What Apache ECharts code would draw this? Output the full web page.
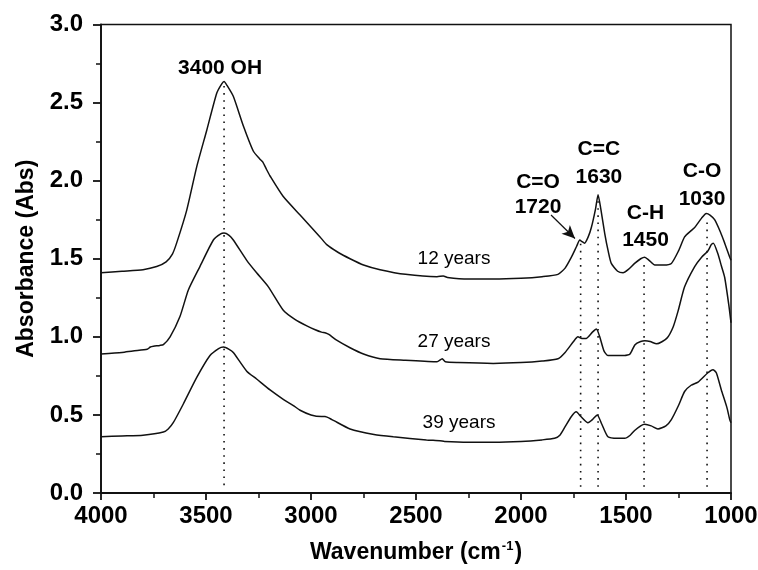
<!DOCTYPE html>
<html>
<head>
<meta charset="utf-8">
<script src="https://cdn.jsdelivr.net/npm/echarts@6/dist/echarts.min.js"></script>
<style>
html,body{margin:0;padding:0;background:#fff;}
#chart{width:758px;height:570px;}
</style>
</head>
<body>
<div id="chart"></div>
<script>
// ---- Data ----
const wavenumber12 = [4000,3900,3800,3735,3690,3660,3640,3592,3544,3497,3449,3425,3414,3400,3370,3322,3275,3245,3230,3211,3195,3133,3052,2957,2925,2870,2814,2750,2671,2550,2400,2370,2350,2250,2132,2000,1900,1824,1790,1760,1735,1720,1710,1697,1680,1665,1645,1633,1620,1601,1585,1570,1540,1514,1490,1459,1430,1411,1390,1363,1320,1284,1250,1221,1190,1173,1140,1118,1100,1078,1050,1030,1006,1000];
const absorbance12 = [1.41,1.42,1.43,1.45,1.48,1.53,1.60,1.81,2.09,2.32,2.56,2.62,2.635,2.61,2.54,2.35,2.19,2.14,2.12,2.07,2.03,1.90,1.78,1.64,1.59,1.54,1.50,1.46,1.43,1.40,1.385,1.39,1.38,1.37,1.37,1.375,1.385,1.40,1.44,1.51,1.58,1.62,1.61,1.60,1.64,1.70,1.82,1.91,1.82,1.66,1.55,1.47,1.42,1.41,1.43,1.47,1.50,1.51,1.49,1.46,1.46,1.47,1.55,1.64,1.68,1.70,1.76,1.79,1.78,1.75,1.67,1.60,1.51,1.49];

const wavenumber27 = [4000,3900,3848,3780,3765,3750,3720,3703,3671,3624,3584,3529,3465,3430,3414,3390,3370,3306,3259,3203,3132,3075,3020,2980,2950,2930,2915,2880,2814,2750,2671,2550,2400,2375,2360,2300,2132,2000,1900,1824,1790,1750,1729,1710,1690,1660,1641,1625,1605,1586,1540,1506,1481,1457,1430,1410,1385,1354,1306,1275,1251,1221,1173,1140,1110,1094,1084,1062,1045,1030,1010,1000];
const absorbance27 = [0.89,0.90,0.91,0.92,0.935,0.94,0.945,0.95,1.00,1.13,1.30,1.45,1.62,1.66,1.665,1.65,1.62,1.49,1.41,1.32,1.17,1.11,1.07,1.045,1.03,1.025,1.015,0.98,0.93,0.89,0.86,0.85,0.84,0.86,0.84,0.835,0.83,0.835,0.845,0.86,0.90,0.97,1.00,0.99,0.99,1.03,1.05,1.00,0.91,0.88,0.88,0.88,0.89,0.95,0.97,0.975,0.97,0.955,0.99,1.065,1.17,1.32,1.45,1.51,1.55,1.59,1.60,1.53,1.45,1.38,1.20,1.09];

const wavenumber39 = [4000,3900,3800,3703,3680,3656,3608,3544,3481,3440,3417,3390,3370,3306,3259,3195,3132,3084,3052,3000,2950,2933,2900,2814,2700,2608,2450,2386,2364,2250,2132,2000,1900,1840,1815,1792,1760,1737,1715,1681,1660,1637,1615,1586,1540,1506,1480,1459,1430,1411,1380,1348,1310,1284,1250,1221,1190,1157,1110,1086,1070,1046,1020,1006,1000];
const absorbance39 = [0.36,0.365,0.37,0.39,0.41,0.45,0.57,0.74,0.88,0.925,0.935,0.92,0.90,0.78,0.73,0.66,0.60,0.56,0.53,0.50,0.49,0.49,0.47,0.41,0.375,0.36,0.34,0.335,0.33,0.325,0.325,0.33,0.34,0.35,0.37,0.42,0.49,0.52,0.49,0.45,0.47,0.50,0.44,0.36,0.35,0.35,0.37,0.40,0.43,0.44,0.43,0.41,0.43,0.47,0.56,0.65,0.69,0.71,0.77,0.79,0.77,0.66,0.55,0.47,0.45];

const peakWavenumbers = [3414, 1716, 1633, 1414, 1114];
const peakTops = [2.62, 1.61, 1.90, 1.49, 1.76];
const peakBottoms = [0.05, 0.04, 0.04, 0.04, 0.04];

const annotationTexts = ['3400 OH', 'C=O', '1720', 'C=C', '1630', 'C-H', '1450', 'C-O', '1030'];
const annotationWn = [3433, 1919, 1919, 1629, 1629, 1407, 1407, 1138, 1138];
const annotationAbs = [2.72, 1.99, 1.83, 2.20, 2.02, 1.79, 1.62, 2.06, 1.88];

const sampleLabels = ['12 years', '27 years', '39 years'];
const sampleLabelWn = [2319, 2319, 2295];
const sampleLabelAbs = [1.50, 0.97, 0.45];

const arrowFrom = [1857, 1.78];
const arrowTo = [1743, 1.63];

const xTicks = {min: 1000, max: 4000, interval: 500};
const yTicks = {min: 0, max: 3, interval: 0.5};

// ---- Build chart ----
const zip = (a, b) => a.map((v, i) => [v, b[i]]);
const FONT = '"Liberation Sans", Arial, sans-serif';
const lineColor = '#111';

const series = [];
[[wavenumber12, absorbance12], [wavenumber27, absorbance27], [wavenumber39, absorbance39]].forEach(([w, a]) => {
  series.push({
    type: 'line', data: zip(w, a), showSymbol: false, symbol: 'none', smooth: 0.2,
    lineStyle: {color: lineColor, width: 1.5}, z: 3
  });
});
peakWavenumbers.forEach((w, i) => {
  series.push({
    type: 'line', data: [[w, peakBottoms[i]], [w, peakTops[i]]], symbol: 'none',
    lineStyle: {color: '#111', width: 1.6, type: [1.6, 5.5]}, z: 2
  });
});
series.push({
  type: 'scatter', symbolSize: 1, itemStyle: {color: 'rgba(0,0,0,0)', opacity: 1},
  data: annotationTexts.map((t, i) => ({name: t, value: [annotationWn[i], annotationAbs[i]]})),
  label: {show: true, position: 'inside', formatter: '{b}', color: '#000', fontFamily: FONT, fontWeight: 'bold', fontSize: 21},
  z: 5
});
series.push({
  type: 'scatter', symbolSize: 1, itemStyle: {color: 'rgba(0,0,0,0)', opacity: 1},
  data: sampleLabels.map((t, i) => ({name: t, value: [sampleLabelWn[i], sampleLabelAbs[i]]})),
  label: {show: true, position: 'inside', formatter: '{b}', color: '#000', fontFamily: FONT, fontWeight: 'normal', fontSize: 19},
  z: 5,
  markLine: {
    silent: true, symbol: ['none', 'arrow'], symbolSize: [9, 13],
    lineStyle: {color: '#111', width: 1.2, type: 'solid', opacity: 1}, label: {show: false},
    data: [[{coord: arrowFrom}, {coord: arrowTo}]]
  }
});

const chart = echarts.init(document.getElementById('chart'));
chart.setOption({
  animation: false,
  backgroundColor: '#fff',
  grid: {left: 101, right: 27, top: 24.5, bottom: 77, show: true, borderColor: '#111', borderWidth: 1.5, outerBoundsMode: 'none', containLabel: false},
  xAxis: {
    type: 'value', inverse: true, min: xTicks.min, max: xTicks.max, interval: xTicks.interval,
    axisLine: {lineStyle: {color: '#111', width: 1.8}},
    axisTick: {show: true, length: 7, lineStyle: {color: '#111', width: 1.8}},
    minorTick: {show: true, splitNumber: 2, length: 5, lineStyle: {color: '#111', width: 1.5}},
    splitLine: {show: false},
    axisLabel: {color: '#000', fontFamily: FONT, fontWeight: 'bold', fontSize: 24, margin: 11, formatter: v => String(v)},
    name: '{a|Wavenumber (cm}{s|-1}{a|)}', nameLocation: 'middle', nameGap: 47,
    nameTextStyle: {
      rich: {
        a: {fontFamily: FONT, fontWeight: 'bold', fontSize: 23, color: '#000', lineHeight: 26},
        s: {fontFamily: FONT, fontWeight: 'bold', fontSize: 13, color: '#000', verticalAlign: 'top', lineHeight: 26, padding: [0, 1, 12, 1]}
      }
    }
  },
  yAxis: {
    type: 'value', min: yTicks.min, max: yTicks.max, interval: yTicks.interval,
    axisLine: {show: true, lineStyle: {color: '#111', width: 1.8}},
    axisTick: {show: true, length: 8, lineStyle: {color: '#111', width: 1.8}},
    minorTick: {show: true, splitNumber: 2, length: 5, lineStyle: {color: '#111', width: 1.5}},
    splitLine: {show: false},
    axisLabel: {color: '#000', fontFamily: FONT, fontWeight: 'bold', fontSize: 24, margin: 18, formatter: v => v.toFixed(1)},
    name: 'Absorbance (Abs)', nameLocation: 'middle', nameGap: 63,
    nameTextStyle: {fontFamily: FONT, fontWeight: 'bold', fontSize: 23, color: '#000'}
  },
  series: series
});
</script>
</body>
</html>
